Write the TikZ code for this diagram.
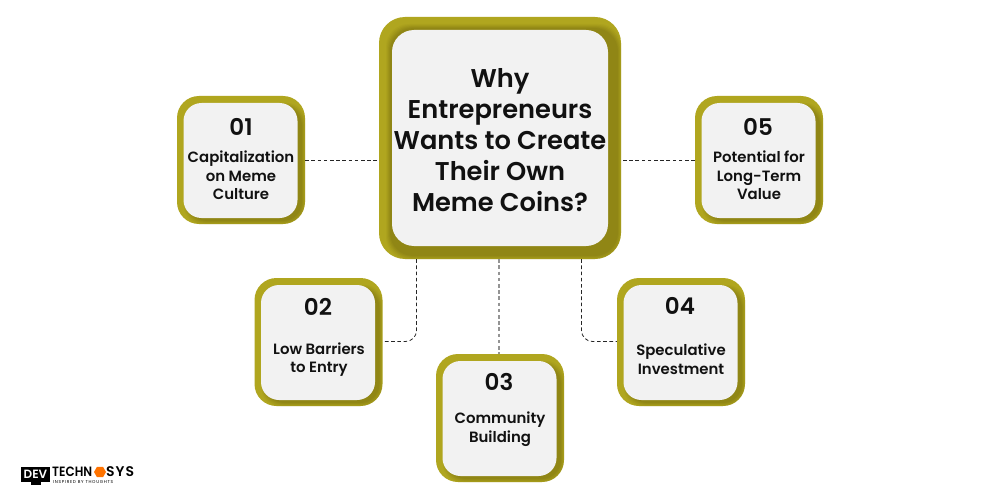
\documentclass[tikz,border=0pt]{standalone}
\usepackage{fontspec}
\setmainfont{Poppins}[BoldFont={Poppins SemiBold}]
\newfontfamily\logospaced[LetterSpace=16]{Poppins}
\newfontfamily\logotech[FakeStretch=0.89]{Poppins SemiBold}
\newfontfamily\logosys[LetterSpace=7]{Poppins SemiBold}
\usetikzlibrary{calc,shapes.geometric}
\definecolor{olivebox}{HTML}{B0A61F}
\definecolor{olivedark}{HTML}{6E6410}
\definecolor{innerbox}{HTML}{F2F2F2}
\definecolor{inkc}{HTML}{111111}
\tikzset{
  outerbox/.style={fill=olivebox,minimum width=#1,minimum height=#1,inner sep=0pt,rounded corners=22pt},
  innerpanel/.style 2 args={fill=innerbox,minimum width=#1,minimum height=#2,inner sep=0pt,rounded corners=18pt},
  numtxt/.style={font=\fontsize{23}{23}\selectfont\bfseries,text=inkc,inner sep=0pt},
  labeltxt/.style={font=\fontsize{14.9}{18.7}\selectfont\bfseries,text=inkc,inner sep=0pt,align=center},
  titletxt/.style={font=\fontsize{25.7}{31}\selectfont\bfseries,text=inkc,inner sep=0pt,align=center},
  link/.style={draw=black!85,line width=0.8pt,dash pattern=on 3.6pt off 2.6pt},
  softlink/.style={draw=black!42,line width=1.1pt,dash pattern=on 3.6pt off 2.6pt},
  logotxt/.style={inner sep=0pt,anchor=west,text=black},
}
\newcommand{\softshadow}[4]{% cx cy size radius
  \begin{scope}
    \clip[rounded corners=#4pt] ($(#1,#2)+(-#3/2,-#3/2)$) rectangle ($(#1,#2)+(#3/2,#3/2)$);
    \foreach \g/\o in {4/0.07,3/0.09,2/0.11,1/0.13,0/0.15}{
      \fill[olivedark,opacity=\o,rounded corners=#4pt-3pt]
        ($(#1,#2)+(-#3/2+7,-#3/2+7)-(\g,\g)+(4,4)$) rectangle ($(#1,#2)+(#3/2-7,#3/2-7)+(\g,\g)+(4,4)$);
    }
  \end{scope}
}
\begin{document}
\begin{tikzpicture}[x=1pt,y=-1pt]
\useasboundingbox (0,0) rectangle (1000,500);
\fill[white] (0,0) rectangle (1000,500);
% outer boxes
\node[outerbox=242pt,rounded corners=26pt] (c) at (500,138) {};
\node[outerbox=128pt] (n1) at (241,160) {};
\node[outerbox=128pt] (n2) at (318.5,342) {};
\node[outerbox=128pt] (n3) at (500,418) {};
\node[outerbox=128pt] (n4) at (681,342) {};
\node[outerbox=128pt] (n5) at (759,160) {};
% shadows
\softshadow{500}{138}{242}{26}
\softshadow{241}{160}{128}{22}
\softshadow{318.5}{342}{128}{22}
\softshadow{500}{418}{128}{22}
\softshadow{681}{342}{128}{22}
\softshadow{759}{160}{128}{22}
% panels
\node[innerpanel={216pt}{216pt},rounded corners=22pt] (cp) at (500,138) {};
\node[innerpanel={114pt}{115pt}] (p1) at (240.5,160.5) {};
\node[innerpanel={114pt}{115pt}] (p2) at (318,342.5) {};
\node[innerpanel={114pt}{115pt}] (p3) at (499.5,418.5) {};
\node[innerpanel={114pt}{115pt}] (p4) at (680.5,342.5) {};
\node[innerpanel={114pt}{115pt}] (p5) at (758.5,160.5) {};
% connectors
\draw[link] ($(n1.east)+(0,0.5)$) -- ($(n1.east -| c.west)+(0,0.5)$);
\draw[link] ($(n5.west)+(0,0.5)$) -- ($(n5.west -| c.east)+(0,0.5)$);
\coordinate (d2) at ($(c.south)+(-83.5,0)$);
\coordinate (d4) at ($(c.south)+(81.5,0)$);
\coordinate (e2) at ($(n2.east)+(0,-0.5)$);
\coordinate (e4) at ($(n4.west)+(0,-0.5)$);
\draw[link,rounded corners=11pt] (d2) |- (e2);
\draw[link,rounded corners=11pt] (d4) |- (e4);
\draw[softlink] ($(c.south)+(-1,0)$) -- ($(n3.north)+(-1,0)$);
% texts
\node[titletxt] (t) at (500,140) {Why\\Entrepreneurs\\Wants to Create\\Their Own\\Meme Coins?};
\node[numtxt] (a1) at (241,127) {01};
\node[labeltxt] (b1) at (241,175.5) {Capitalization\\on Meme\\Culture};
\node[numtxt] (a2) at (318,307) {02};
\node[labeltxt] (b2) at (319,359.5) {Low Barriers\\to Entry};
\node[numtxt] (a3) at (499,382) {03};
\node[labeltxt] (b3) at (500,429.5) {Community\\Building};
\node[numtxt] (a4) at (680,306) {04};
\node[labeltxt] (b4) at (681,359.5) {Speculative\\Investment};
\node[numtxt] (a5) at (758,127) {05};
\node[labeltxt] (b5) at (759,175.5) {Potential for\\Long-Term\\Value};
% logo
\node[fill=black,minimum width=29pt,minimum height=15pt,inner sep=0pt,text=white,font=\fontsize{12}{12}\selectfont\bfseries] (lg) at (35.5,474.5) {DEV};
\node[fill=black,minimum width=10pt,minimum height=3pt,inner sep=0pt] (lgs) at (35.5,483) {};
\node[logotxt,font=\logotech\fontsize{13.5}{13.5}\selectfont] (lt1) at (52,471.5) {TECHN};
\node[fill=orange!90!red,regular polygon,regular polygon sides=6,minimum size=12pt,inner sep=0pt] (lo) at (100,472) {};
\node[logotxt,font=\logosys\fontsize{14}{14}\selectfont] (lt2) at (106,471.5) {SYS};
\node[logotxt,font=\logospaced\fontsize{4.3}{4.3}\selectfont] (lt3) at (53,481.5) {INSPIRED BY THOUGHTS};
\end{tikzpicture}
\end{document}
